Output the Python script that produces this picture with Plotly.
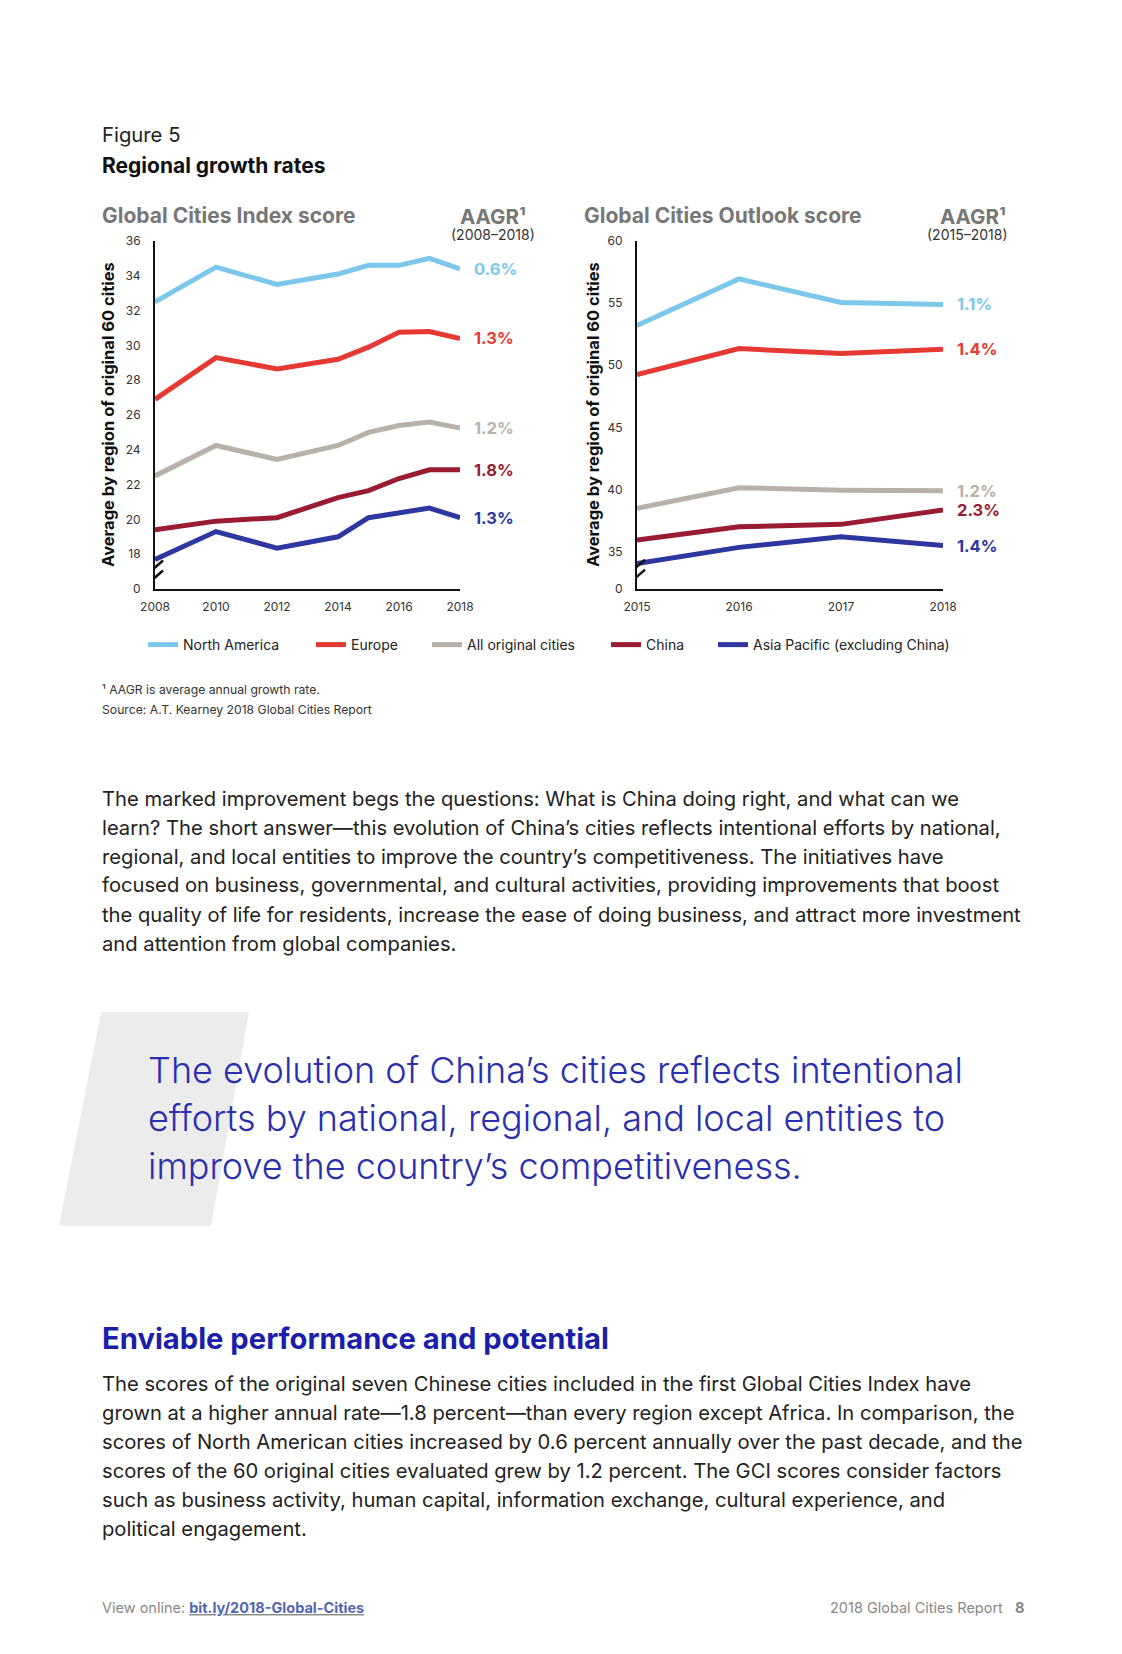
import plotly.graph_objects as go

W, H = 1122, 1654

# ---------------- data ----------------
gci_years = [2008, 2010, 2012, 2014, 2015, 2016, 2017, 2018]
gco_years = [2015, 2016, 2017, 2018]

series_names = ["North America", "Europe", "All original cities", "China",
                "Asia Pacific (excluding China)"]
series_colors = ["#7cc8ea", "#e53a33", "#b8b1aa", "#9a1c33", "#2e37a0"]

gci_north_america = [32.5, 34.5, 33.5, 34.1, 34.6, 34.6, 35.0, 34.4]
gci_europe = [26.9, 29.3, 28.65, 29.2, 29.9, 30.75, 30.8, 30.4]
gci_all_cities = [22.5, 24.25, 23.45, 24.25, 25.0, 25.4, 25.6, 25.25]
gci_china = [19.4, 19.9, 20.1, 21.25, 21.65, 22.35, 22.85, 22.85]
gci_asia_pacific = [17.7, 19.3, 18.35, 19.0, 20.1, 20.4, 20.65, 20.1]

gco_north_america = [53.2, 56.95, 55.05, 54.9]
gco_europe = [49.25, 51.35, 50.95, 51.3]
gco_all_cities = [38.5, 40.15, 39.95, 39.9]
gco_china = [35.95, 37.0, 37.2, 38.35]
gco_asia_pacific = [34.05, 35.35, 36.2, 35.5]

gci_aagr = ["0.6%", "1.3%", "1.2%", "1.8%", "1.3%"]
gco_aagr = ["1.1%", "1.4%", "1.2%", "2.3%", "1.4%"]

gci_tick_vals = [16, 18, 20, 22, 24, 26, 28, 30, 32, 34, 36]
gci_tick_text = ["0", "18", "20", "22", "24", "26", "28", "30", "32", "34", "36"]
gco_tick_vals = [32, 35, 40, 45, 50, 55, 60]
gco_tick_text = ["0", "35", "40", "45", "50", "55", "60"]
gci_x_ticks = [2008, 2010, 2012, 2014, 2016, 2018]
gco_x_ticks = [2015, 2016, 2017, 2018]

gci_values = [gci_north_america, gci_europe, gci_all_cities, gci_china, gci_asia_pacific]
gco_values = [gco_north_america, gco_europe, gco_all_cities, gco_china, gco_asia_pacific]

# ---------------- helpers (layout only) ----------------
OFF = 8  # page body margin compensation


def px(x):
    return (x - OFF) / W


def py(y):
    return 1 - (y - OFF) / H


FONT = "Inter"
DARK = "#222222"
GRAY_T = "#777777"

legend_ids = ["legend", "legend2", "legend3", "legend4", "legend5"]
legend_x = [143, 311, 427, 606, 713]

fig = go.Figure()

for i, name in enumerate(series_names):
    fig.add_trace(go.Scatter(x=gci_years, y=gci_values[i], mode="lines", name=name,
                             line=dict(color=series_colors[i], width=5),
                             xaxis="x", yaxis="y", showlegend=True, legend=legend_ids[i],
                             hoverinfo="skip"))
for i, name in enumerate(series_names):
    fig.add_trace(go.Scatter(x=gco_years, y=gco_values[i], mode="lines", name=name,
                             line=dict(color=series_colors[i], width=5),
                             xaxis="x2", yaxis="y2", showlegend=False, hoverinfo="skip"))

axis_common = dict(showgrid=False, zeroline=False, showline=True, linecolor="#111111",
                   linewidth=2, ticks="", tickfont=dict(family=FONT, size=12, color="#333333"),
                   fixedrange=True, automargin=False)

layout_legends = {}
for i, lid in enumerate(legend_ids):
    layout_legends[lid] = dict(orientation="h", x=px(legend_x[i]), xanchor="left",
                               y=py(645), yanchor="middle", itemwidth=30,
                               font=dict(family=FONT, size=14, color=DARK),
                               bgcolor="rgba(0,0,0,0)", borderwidth=0)

fig.update_layout(
    width=W, height=H, margin=dict(l=0, r=0, t=0, b=0, pad=0, autoexpand=False),
    paper_bgcolor="white", plot_bgcolor="white",
    font=dict(family=FONT, color=DARK),
    xaxis=dict(domain=[px(155), px(460)], range=[2008, 2018], tickvals=gci_x_ticks,
               anchor="y", ticklabelstandoff=6, **axis_common),
    yaxis=dict(domain=[py(589), py(241)], range=[16, 36], tickvals=gci_tick_vals,
               ticktext=gci_tick_text, anchor="x", ticklabelstandoff=10, **axis_common),
    xaxis2=dict(domain=[px(637), px(943)], range=[2015, 2018], tickvals=gco_x_ticks,
                anchor="y2", ticklabelstandoff=6, **axis_common),
    yaxis2=dict(domain=[py(589), py(241)], range=[32, 60], tickvals=gco_tick_vals,
                ticktext=gco_tick_text, anchor="x2", ticklabelstandoff=10, **axis_common),
    showlegend=True,
    **layout_legends,
)

# axis break marks
for xa, ya, xv, yv in [("x", "y", 2008, 16.95), ("x2", "y2", 2015, 33.4)]:
    for dy in (-5, 5):
        fig.add_shape(type="line", xref=xa, yref=ya, xsizemode="pixel", ysizemode="pixel",
                      xanchor=xv, yanchor=yv, x0=-8, x1=8, y0=dy - 7, y1=dy + 7,
                      line=dict(color="#111111", width=2.5))

anns = []


def text(x, y, s, size, color=DARK, weight="normal", anchor="left", family=FONT):
    anns.append(dict(x=px(x), y=py(y), xref="paper", yref="paper", text=s, showarrow=False,
                     xanchor=anchor, yanchor="middle",
                     font=dict(family=family, size=size, color=color, weight=weight)))


# titles
text(100, 135, "Figure 5", 20.3, DARK)
text(100, 165, "Regional growth rates", 21, "#111111", "bold")
text(100, 215, "Global Cities Index score", 21, GRAY_T, "bold")
text(582, 215, "Global Cities Outlook score", 21, GRAY_T, "bold")
text(528, 216, "AAGR¹", 20.5, GRAY_T, "bold", anchor="right")
text(537, 235, "(2008–2018)", 14, "#333333", anchor="right")
text(1008, 216, "AAGR¹", 20.5, GRAY_T, "bold", anchor="right")
text(1010, 235, "(2015–2018)", 14, "#333333", anchor="right")

# y axis titles
for xc in (108, 593):
    anns.append(dict(x=px(xc), y=py(415), xref="paper", yref="paper",
                     text="Average by region of original 60 cities", textangle=-90,
                     showarrow=False, xanchor="center", yanchor="middle",
                     font=dict(family=FONT, size=16.5, color="#111111", weight="bold")))

# AAGR labels at line ends
for i in range(len(series_names)):
    anns.append(dict(x=gci_years[-1], y=gci_values[i][-1], xref="x", yref="y",
                     text=gci_aagr[i], showarrow=False, xanchor="left", yanchor="middle",
                     xshift=12, font=dict(family=FONT, size=16.5, color=series_colors[i],
                                          weight="bold")))
    anns.append(dict(x=gco_years[-1], y=gco_values[i][-1], xref="x2", yref="y2",
                     text=gco_aagr[i], showarrow=False, xanchor="left", yanchor="middle",
                     xshift=12, font=dict(family=FONT, size=16.5, color=series_colors[i],
                                          weight="bold")))

# footnotes
text(100, 690, "¹ AAGR is average annual growth rate.", 12.2, "#333333")
text(100, 709, "Source: A.T. Kearney 2018 Global Cities Report", 12.2, "#333333")

# body paragraph 1
para1 = [
    "The marked improvement begs the questions: What is China doing right, and what can we",
    "learn? The short answer—this evolution of China’s cities reflects intentional efforts by national,",
    "regional, and local entities to improve the country’s competitiveness. The initiatives have",
    "focused on business, governmental, and cultural activities, providing improvements that boost",
    "the quality of life for residents, increase the ease of doing business, and attract more investment",
    "and attention from global companies.",
]
for k, line in enumerate(para1):
    text(100, 798 + k * 29, line, 20.2, "#222222")

# quote block
fig.add_shape(type="path", xref="paper", yref="paper",
              path=f"M {px(101)} {py(1012)} L {px(249)} {py(1012)} L {px(211)} {py(1226)} L {px(59)} {py(1226)} Z",
              fillcolor="#ececec", line=dict(width=0), layer="below")
quote = [
    "The evolution of China’s cities reflects intentional",
    "efforts by national, regional, and local entities to",
    "improve the country’s competitiveness.",
]
for k, line in enumerate(quote):
    text(146, 1070 + k * 48, line, 36, "#2b2fae", 300)

# heading + paragraph 2
text(100, 1338, "Enviable performance and potential", 29.2, "#1b1fa8", "bold")
para2 = [
    "The scores of the original seven Chinese cities included in the first Global Cities Index have",
    "grown at a higher annual rate—1.8 percent—than every region except Africa. In comparison, the",
    "scores of North American cities increased by 0.6 percent annually over the past decade, and the",
    "scores of the 60 original cities evaluated grew by 1.2 percent. The GCI scores consider factors",
    "such as business activity, human capital, information exchange, cultural experience, and",
    "political engagement.",
]
for k, line in enumerate(para2):
    text(100, 1383 + k * 29, line, 20.2, "#222222")

# footer
text(100, 1607, "View online: <b><u><span style='color:#5566b0'>bit.ly/2018-Global-Cities</span></u></b>",
     14.5, "#888888")
text(1027, 1607, "2018 Global Cities Report   <b>8</b>", 14.5, "#888888", anchor="right")

fig.update_layout(annotations=anns)
fig.write_html("out.html")
